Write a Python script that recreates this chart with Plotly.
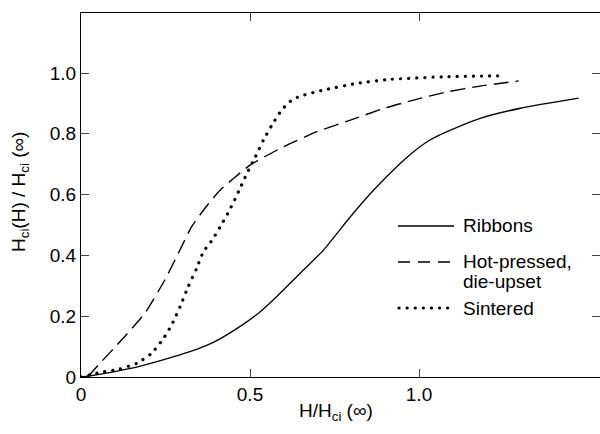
import plotly.graph_objects as go

# Ribbons (solid)
ribbons_x = [0, 0.05, 0.10, 0.17, 0.23, 0.29, 0.34, 0.39, 0.455, 0.525, 0.584, 0.65, 0.718, 0.797, 0.866, 0.945, 0.984, 1.03, 1.083, 1.181, 1.30, 1.472]
ribbons_y = [0, 0.008, 0.018, 0.034, 0.052, 0.072, 0.09, 0.113, 0.155, 0.21, 0.27, 0.343, 0.418, 0.527, 0.615, 0.703, 0.741, 0.778, 0.807, 0.851, 0.884, 0.917]

# Hot-pressed, die-upset (dashed)
hot_x = [0.02, 0.051, 0.12, 0.189, 0.248, 0.288, 0.327, 0.37, 0.412, 0.452, 0.50, 0.60, 0.698, 0.797, 0.90, 0.984, 1.083, 1.181, 1.295]
hot_y = [0, 0.039, 0.122, 0.21, 0.319, 0.407, 0.494, 0.56, 0.615, 0.654, 0.697, 0.758, 0.807, 0.845, 0.885, 0.911, 0.938, 0.957, 0.974]

# Sintered (dotted)
sint_x = [0, 0.051, 0.11, 0.165, 0.209, 0.244, 0.268, 0.293, 0.317, 0.342, 0.362, 0.389, 0.419, 0.44, 0.466, 0.491, 0.516, 0.54, 0.565, 0.595, 0.624, 0.649, 0.718, 0.817, 0.915, 1.083, 1.25]
sint_y = [0, 0.014, 0.025, 0.045, 0.078, 0.127, 0.171, 0.231, 0.297, 0.357, 0.412, 0.452, 0.508, 0.55, 0.61, 0.67, 0.725, 0.78, 0.829, 0.88, 0.911, 0.924, 0.944, 0.966, 0.979, 0.988, 0.991]

x_ticks = [0, 0.5, 1.0]
x_labels = ["0", "0.5", "1.0"]
y_ticks = [0, 0.2, 0.4, 0.6, 0.8, 1.0]
y_labels = ["0", "0.2", "0.4", "0.6", "0.8", "1.0"]

legend_names = ["Ribbons", "Hot-pressed,", "die-upset", "Sintered"]
x_title = "H/H<sub>ci</sub> (∞)"
y_title = "H<sub>ci</sub>(H) / H<sub>ci</sub> (∞)"

FONT = "Liberation Sans, Arial, Helvetica, sans-serif"
DOT = "0.1px,8px"

fig = go.Figure()
fig.add_trace(go.Scatter(x=ribbons_x, y=ribbons_y, mode="lines", line=dict(color="black", width=1.3, shape="spline", smoothing=0.5), name="Ribbons"))
fig.add_trace(go.Scatter(x=hot_x, y=hot_y, mode="lines", line=dict(color="black", width=1.4, dash="15px,7px", shape="spline", smoothing=0.5), name="Hot-pressed, die-upset"))
fig.add_trace(go.Scatter(x=sint_x, y=sint_y, mode="lines", line=dict(color="black", width=3.2, dash=DOT, shape="spline", smoothing=0.5), name="Sintered"))

W, H = 600, 434
L, R, T, B = 81, 0, 13, 57
pw, ph = W - L - R, H - T - B

def px(xp):
    return (xp - L) / pw

def py(yp):
    return (H - B - yp) / ph

shapes = [
    dict(type="line", xref="paper", yref="paper", x0=px(398), x1=px(454), y0=py(226), y1=py(226), line=dict(color="black", width=1.3)),
    dict(type="line", xref="paper", yref="paper", x0=px(398), x1=px(456), y0=py(262), y1=py(262), line=dict(color="black", width=1.4, dash="12px,8px")),
    dict(type="line", xref="paper", yref="paper", x0=px(399), x1=px(452), y0=py(308), y1=py(308), line=dict(color="black", width=3.2, dash=DOT)),
]
ann_pos = [(461, 226), (461, 261), (461, 281), (461, 308)]
annotations = [
    dict(xref="paper", yref="paper", x=px(xx), y=py(yy), text=t, showarrow=False, xanchor="left", yanchor="middle",
         font=dict(family=FONT, size=19, color="black"))
    for t, (xx, yy) in zip(legend_names, ann_pos)
]
annotations.append(dict(xref="paper", yref="paper", x=px(336), y=py(412), text=x_title, showarrow=False,
                        xanchor="center", yanchor="middle", font=dict(family=FONT, size=19, color="black")))
annotations.append(dict(xref="paper", yref="paper", x=px(20), y=py(192), text=y_title, showarrow=False, textangle=-90,
                        xanchor="center", yanchor="middle", font=dict(family=FONT, size=19, color="black")))

fig.update_layout(
    width=W, height=H,
    margin=dict(l=L, r=R, t=T, b=B, autoexpand=False),
    paper_bgcolor="white", plot_bgcolor="white",
    showlegend=False,
    shapes=shapes,
    annotations=annotations,
    font=dict(family=FONT, size=19, color="black"),
    xaxis=dict(range=[0, pw / 338.0], tickvals=x_ticks, ticktext=x_labels, ticks="inside", ticklen=8,
               showline=True, linecolor="black", linewidth=1.2, mirror="ticks", showgrid=False, zeroline=False,
               automargin=False, tickfont=dict(size=19)),
    yaxis=dict(range=[0, ph / 304.0], tickvals=y_ticks, ticktext=y_labels, ticks="inside", ticklen=8,
               showline=True, linecolor="black", linewidth=1.2, mirror="ticks", showgrid=False, zeroline=False,
               automargin=False, tickfont=dict(size=19)),
)

post = """
document.body.style.margin='0';document.body.style.padding='0';document.body.style.overflow='hidden';
document.querySelectorAll('path').forEach(function(p){
  var d = p.style.strokeDasharray || '';
  if (d.indexOf('0.1') === 0) { p.style.strokeLinecap = 'round'; }
});
"""
fig.write_html("out.html", post_script=post, config={"displayModeBar": False})
